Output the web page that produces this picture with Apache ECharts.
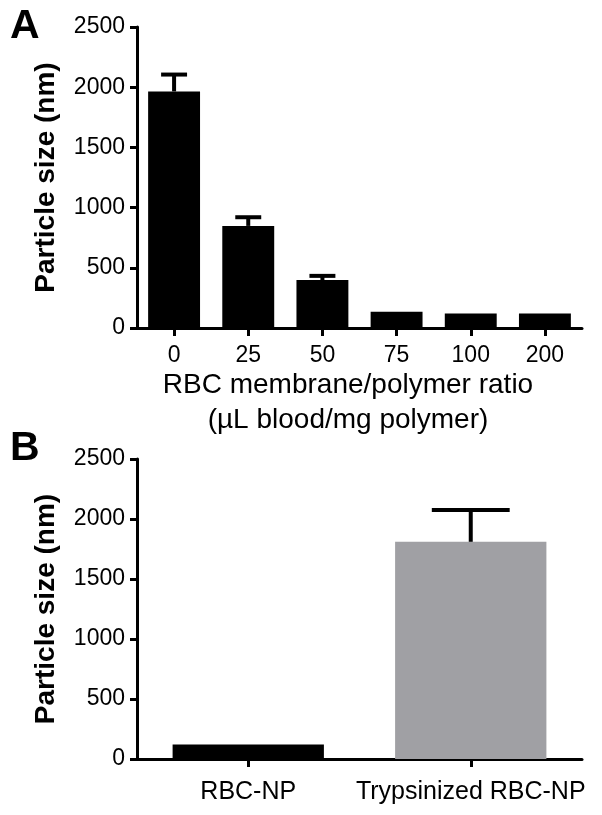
<!DOCTYPE html>
<html>
<head>
<meta charset="utf-8">
<script src="https://cdn.jsdelivr.net/npm/echarts@6/dist/echarts.min.js"></script>
<style>html,body{margin:0;padding:0;background:#fff;}#c{width:602px;height:815px;}</style>
</head>
<body>
<div id="c"></div>
<script>
const catsA = ['0', '25', '50', '75', '100', '200'];
const meanA = [1965, 848, 398, 135, 120, 120];
const errA = [140, 72, 35, 0, 0, 0];
const catsB = ['RBC-NP', 'Trypsinized RBC-NP'];
const meanB = [120, 1810];
const errB = [0, 265];
const colorsB = ['#000000', '#a0a0a4'];
const yMin = 0, yMax = 2500, yStep = 500;
const yTitle = 'Particle size (nm)';
const xTitleA = 'RBC membrane/polymer ratio\n(\u00b5L blood/mg polymer)';

const FONT = "'Liberation Sans', Arial, sans-serif";

function renderErr(params, api) {
  const x = api.value(0), m = api.value(1), e = api.value(2);
  if (!e) return null;
  const base = api.coord([x, m]);
  const top = api.coord([x, m + e]);
  const band = api.size([1, 0])[0];
  const half = band * 0.35 / 2;
  return {
    type: 'group',
    children: [
      { type: 'line', shape: { x1: base[0], y1: base[1], x2: top[0], y2: top[1] }, style: { stroke: '#000', lineWidth: 4 } },
      { type: 'line', shape: { x1: top[0] - half, y1: top[1], x2: top[0] + half, y2: top[1] }, style: { stroke: '#000', lineWidth: 4 } }
    ]
  };
}

function yAxis(gi) {
  return {
    type: 'value', gridIndex: gi, min: yMin, max: yMax, interval: yStep,
    name: yTitle, nameLocation: 'middle', nameGap: 77,
    nameTextStyle: { fontFamily: FONT, fontSize: 28, fontWeight: 'bold', color: '#000' },
    axisLine: { show: true, lineStyle: { color: '#000', width: 3 } },
    axisTick: { show: true, length: 7, lineStyle: { color: '#000', width: 3 } },
    axisLabel: { fontFamily: FONT, fontSize: 23, color: '#000', margin: 12, formatter: v => String(v) },
    splitLine: { show: false }
  };
}

function xAxis(gi, cats, fs, mg) {
  return {
    type: 'category', gridIndex: gi, data: cats,
    axisLine: { show: true, lineStyle: { color: '#000', width: 3 } },
    axisTick: { show: true, alignWithLabel: true, length: 8, lineStyle: { color: '#000', width: 3 } },
    axisLabel: { fontFamily: FONT, fontSize: fs, color: '#000', margin: mg, interval: 0 }
  };
}

const chart = echarts.init(document.getElementById('c'), null, { renderer: 'canvas' });
chart.setOption({
  animation: false,
  backgroundColor: '#fff',
  title: [
    { text: 'A', left: 10, top: 6, padding: 0, textStyle: { fontFamily: FONT, fontSize: 41, fontWeight: 'bold', color: '#000' } },
    { text: 'B', left: 10, top: 428, padding: 0, textStyle: { fontFamily: FONT, fontSize: 41, fontWeight: 'bold', color: '#000' } }
  ],
  graphic: [
    { type: 'text', x: 348, y: 368, silent: true,
      style: { text: xTitleA, font: "28px 'Liberation Sans', Arial, sans-serif", fill: '#000', textAlign: 'center', textVerticalAlign: 'top', lineHeight: 35 } }
  ],
  grid: [
    { left: 137, width: 445, top: 27, height: 301 },
    { left: 137, width: 445, top: 459, height: 300 }
  ],
  xAxis: [xAxis(0, catsA, 23, 16), xAxis(1, catsB, 25, 21)],
  yAxis: [yAxis(0), yAxis(1)],
  series: [
    { type: 'bar', xAxisIndex: 0, yAxisIndex: 0, data: meanA, barWidth: '70%', itemStyle: { color: '#000' }, z: 2 },
    { type: 'custom', xAxisIndex: 0, yAxisIndex: 0, renderItem: renderErr, data: catsA.map((c, i) => [i, meanA[i], errA[i]]), z: 3 },
    { type: 'bar', xAxisIndex: 1, yAxisIndex: 1, barWidth: '68%',
      data: meanB.map((v, i) => ({ value: v, itemStyle: { color: colorsB[i] } })), z: 2 },
    { type: 'custom', xAxisIndex: 1, yAxisIndex: 1, renderItem: renderErr, data: catsB.map((c, i) => [i, meanB[i], errB[i]]), z: 3 }
  ]
});
</script>
</body>
</html>
